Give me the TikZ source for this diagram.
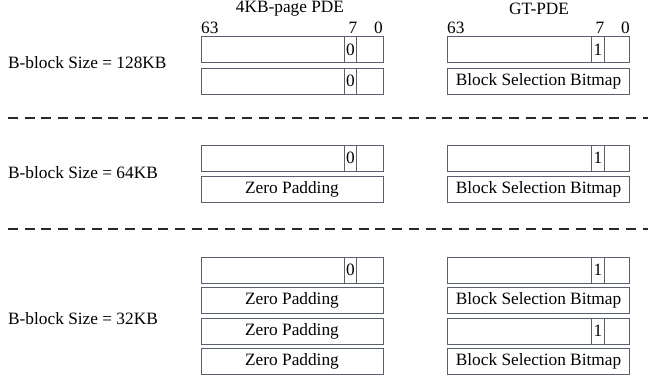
\documentclass[tikz,border=0pt]{standalone}
\usepackage{fontspec}
\setmainfont{Liberation Serif}
\begin{document}
\begin{tikzpicture}[x=1pt,y=-1pt,
  font=\fontsize{17.3}{20}\selectfont,
  field/.style={draw=boxgray, line width=0.9pt, minimum height=26pt, inner sep=0pt, outer sep=0pt},
  wide/.style={field, minimum width=182pt},
  bitcell/.style={field, minimum width=12.5pt},
  sep/.style={draw=sepgray, line width=1.6pt, dash pattern=on 10pt off 6.7pt},
  lbl/.style={inner sep=0pt, anchor=west},
  ttl/.style={inner sep=0pt},
]
\definecolor{boxgray}{RGB}{88,96,112}
\definecolor{sepgray}{RGB}{40,40,40}
\useasboundingbox (0,0) rectangle (648,381);

% titles
\node[ttl] (t1) at (290,9) {4KB-page PDE};
\node[ttl] (t2) at (539,9) {GT-PDE};
\node[ttl, anchor=base west] (l63) at (201,33) {63};
\node[ttl, anchor=base east] (l7) at (357.5,33) {7};
\node[ttl, anchor=base east] (l0) at (383,33) {0};
\node[ttl, anchor=base west] (r63) at (447,33) {63};
\node[ttl, anchor=base east] (r7) at (604.5,33) {7};
\node[ttl, anchor=base east] (r0) at (630,33) {0};

% section 1
\node[lbl] (s1) at (8,63) {B-block Size = 128KB};
\node[wide] (a1) at (292,49.5) {};
\node[bitcell] (a1b) at (350.5,49.5) {0};
\node[wide] (a2) at (292,81) {};
\node[bitcell] (a2b) at (350.5,81) {0};
\node[wide] (b1) at (538.5,49.5) {};
\node[bitcell] (b1b) at (598,49.5) {1};
\node[wide] (b2) at (538.5,81) {Block Selection Bitmap};

\coordinate (d1a) at (8,118);
\coordinate (d1b) at (648,118);
\draw[sep] (d1a) -- (d1b);

% section 2
\node[lbl] (s2) at (8,172.5) {B-block Size = 64KB};
\node[wide] (c1) at (292,158) {};
\node[bitcell] (c1b) at (350.5,158) {0};
\node[wide] (c2) at (292,189) {Zero Padding};
\node[wide] (e1) at (538.5,158) {};
\node[bitcell] (e1b) at (598,158) {1};
\node[wide] (e2) at (538.5,189) {Block Selection Bitmap};

\coordinate (d2a) at (8,229);
\coordinate (d2b) at (648,229);
\draw[sep] (d2a) -- (d2b);

% section 3
\node[lbl] (s3) at (8,318.5) {B-block Size = 32KB};
\node[wide] (f1) at (292,270) {};
\node[bitcell] (f1b) at (350.5,270) {0};
\node[wide] (f2) at (292,300.5) {Zero Padding};
\node[wide] (f3) at (292,331) {Zero Padding};
\node[wide] (f4) at (292,361.5) {Zero Padding};
\node[wide] (g1) at (538.5,270) {};
\node[bitcell] (g1b) at (598,270) {1};
\node[wide] (g2) at (538.5,300.5) {Block Selection Bitmap};
\node[wide] (g3) at (538.5,331) {};
\node[bitcell] (g3b) at (598,331) {1};
\node[wide] (g4) at (538.5,361.5) {Block Selection Bitmap};
\end{tikzpicture}
\end{document}
